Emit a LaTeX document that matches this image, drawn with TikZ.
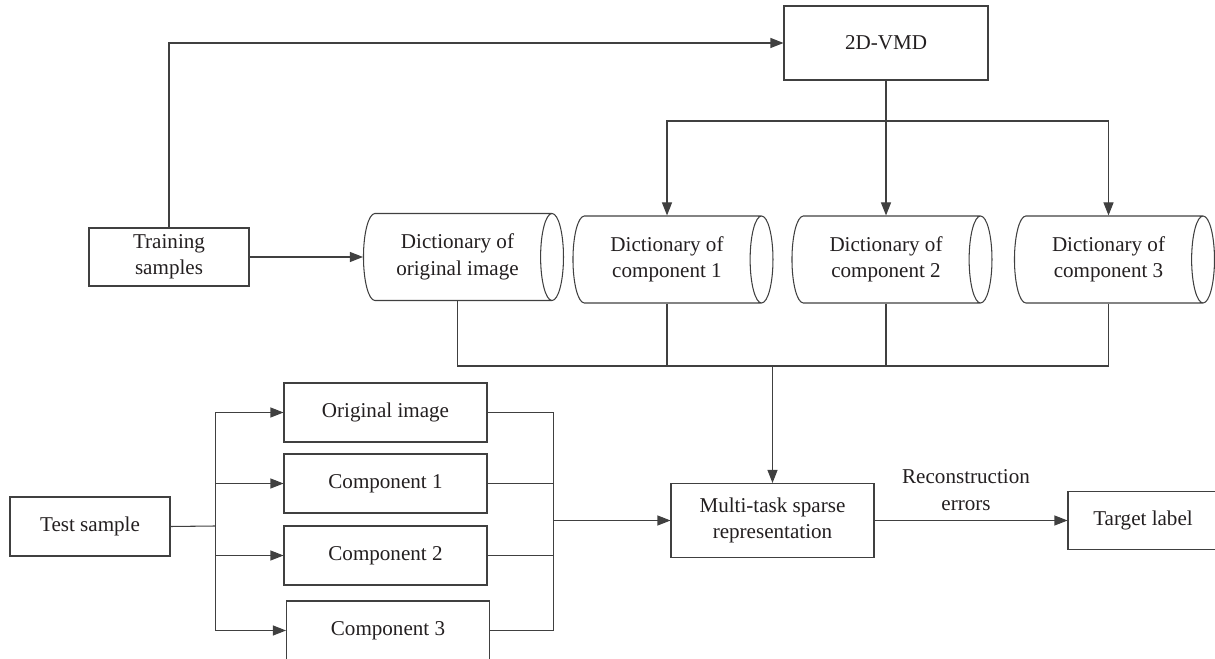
\documentclass[tikz,border=0pt]{standalone}
\usepackage{fontspec}
\setmainfont{Liberation Serif}
\usetikzlibrary{shapes.geometric,arrows.meta}
\definecolor{linegray}{HTML}{404040}
\definecolor{textgray}{HTML}{231F20}
\begin{document}
\begin{tikzpicture}[
    box/.style={draw=linegray, line width=0.6pt, align=center, text=textgray, font=\fontsize{12}{15}\selectfont, inner sep=0pt},
    dict/.style={box, cylinder, shape aspect=0.5, minimum height=4.0cm, minimum width=1.74cm},
    arr/.style={draw=linegray, line width=0.6pt, -{Triangle[length=0.26cm,width=0.2cm]}},
    wire/.style={draw=linegray, line width=0.6pt}
]
            \useasboundingbox (0,0) rectangle (24.3,13.16);
            \node[box, minimum width=4.08cm, minimum height=1.48cm] (vmd) at (17.72,12.30) {2D-VMD};
            \node[box, minimum width=3.2cm, minimum height=1.16cm] (train) at (3.38,8.02) {Training\\samples};
            \node[dict] (dorig) at (9.15,8.02) {Dictionary of\\original image};
            \node[dict] (dc1) at (13.34,7.97) {Dictionary of\\component 1};
            \node[dict] (dc2) at (17.72,7.97) {Dictionary of\\component 2};
            \node[dict] (dc3) at (22.17,7.97) {Dictionary of\\component 3};
            \node[box, minimum width=3.2cm, minimum height=1.18cm] (test) at (1.80,2.63) {Test sample};
            \node[box, minimum width=4.06cm, minimum height=1.18cm] (orig) at (7.71,4.91) {Original image};
            \node[box, minimum width=4.06cm, minimum height=1.18cm] (c1) at (7.71,3.49) {Component 1};
            \node[box, minimum width=4.06cm, minimum height=1.18cm] (c2) at (7.71,2.05) {Component 2};
            \node[box, minimum width=4.06cm, minimum height=1.18cm] (c3) at (7.76,0.55) {Component 3};
            \node[box, minimum width=4.06cm, minimum height=1.48cm] (mts) at (15.45,2.75) {Multi-task sparse\\representation};
            \node[box, minimum width=3.0cm, minimum height=1.16cm] (target) at (22.86,2.75) {Target label};
            \node[align=center, text=textgray, font=\fontsize{12}{15}\selectfont] (rec) at (19.32,3.36) {Reconstruction\\errors};
            \coordinate (split) at (17.72,10.74);
            \coordinate (coll) at (15.45,5.84);
            \coordinate (fork) at (4.31,2.64);
            \coordinate (join) at (11.07,2.75);
            \draw[arr] (train.north) |- (vmd.west);
            \draw[arr] (train.east) -- (dorig.west);
            \draw[wire] (vmd.south) -- (split);
            \foreach \d in {dc1,dc2,dc3}
                \draw[arr] (split) -| (\d.north);
            \foreach \d in {dorig,dc1,dc2,dc3}
                \draw[wire] (\d.south) |- (coll);
            \draw[arr] (coll) -- (mts.north);
            \draw[wire] (test.east) -- (fork);
            \foreach \b in {orig,c1,c2,c3}
                \draw[arr] (fork) |- (\b.west);
            \foreach \b in {orig,c1,c2,c3}
                \draw[wire] (\b.east) -| (join);
            \draw[arr] (join) -- (mts.west);
            \draw[arr] (mts.east) -- (target.west);
        \end{tikzpicture}
\end{document}
